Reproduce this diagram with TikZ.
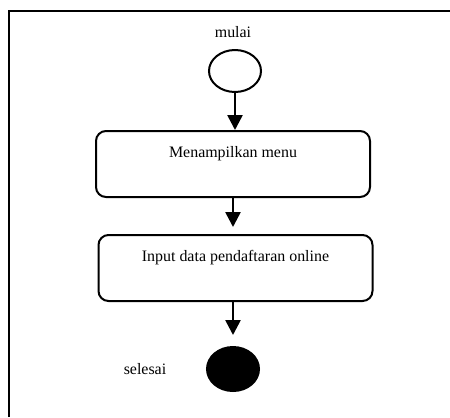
\documentclass[tikz,border=0pt]{standalone}
\usepackage{fontspec}
\setmainfont{Liberation Serif}
\usetikzlibrary{arrows.meta, shapes.geometric}

\tikzset{
  aksi/.style={draw, rounded corners=10bp, minimum width=274bp, minimum height=66bp, align=center, inner sep=0pt},
  awal/.style={draw, ellipse, minimum width=52bp, minimum height=42bp, inner sep=0pt},
  akhir/.style={draw, fill=black, ellipse, minimum width=52bp, minimum height=44bp, inner sep=0pt},
  alur/.style={-{Triangle[length=15bp,width=15bp]}, line width=2.6bp}
}

\begin{document}
\begin{tikzpicture}[x=1bp, y=-1bp, line width=2bp, font=\fontsize{16}{19}\selectfont]
        \useasboundingbox (0,0) rectangle (450,417);
        \draw[line width=2.2bp] (9,417) -- (9,11) -- (450,11);
        \node (mulai) at (233,32) {mulai};
        \node (start) at (235,71) [awal] {};
        \node (menu) at (233,164) [aksi] {Menampilkan menu\\\strut};
        \node (input) at (235.5,268) [aksi] {Input data pendaftaran online\\\strut};
        \node (stop) at (233,369) [akhir] {};
        \node (selesai) at (145,369) {selesai};
        \draw[alur] (start.south) -- (start.south |- menu.north);
        \draw[alur, shorten >=7bp] (menu.south) -- (menu.south |- input.north);
        \draw[alur, shorten >=11bp] (input.south -| stop.north) -- (stop.north);
    \end{tikzpicture}
\end{document}
